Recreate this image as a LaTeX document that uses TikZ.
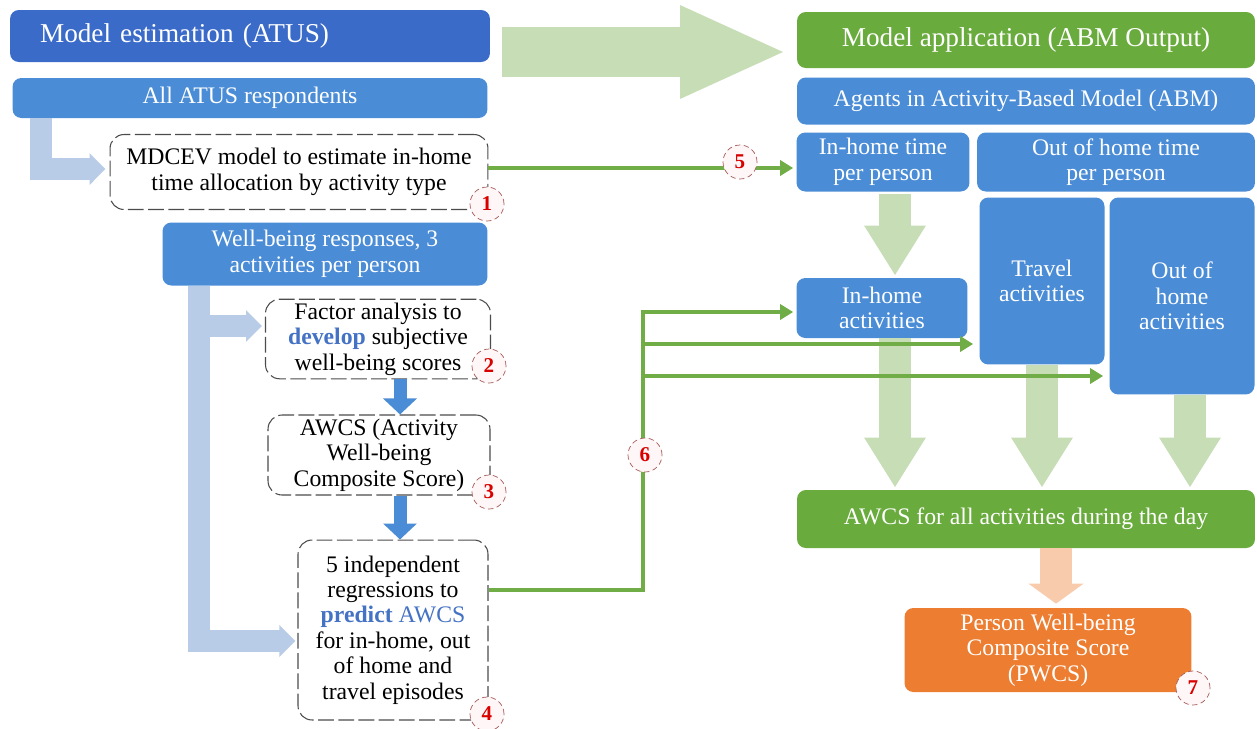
\documentclass[tikz,border=0pt]{standalone}
\usepackage{fontspec}
\setmainfont{Liberation Serif}
\usepackage{xcolor}
\usetikzlibrary{arrows.meta,positioning,calc}

\definecolor{estblue}{HTML}{3B6BC9}
\definecolor{boxblue}{HTML}{4A8CD6}
\definecolor{appgreen}{HTML}{6AAB3E}
\definecolor{lightgreen}{HTML}{C6DDB6}
\definecolor{lightblue}{HTML}{B9CCE7}
\definecolor{lightorange}{HTML}{F8CBAD}
\definecolor{pwcsorange}{HTML}{ED7D31}
\definecolor{keyblue}{HTML}{4472C4}
\definecolor{linkgreen}{HTML}{70AD47}

\newcommand{\bodyfont}{\fontsize{13.5}{14.5}\selectfont}
\newcommand{\hdrfont}{\fontsize{15.5}{17}\selectfont}

\begin{document}
\begin{tikzpicture}[x=0.02cm, y=-0.02cm,
  fill box/.style={rounded corners=5pt, align=center, text=white,
                   font=\bodyfont, inner sep=2pt},
  hdr/.style={fill box, font=\hdrfont},
  blue box/.style={fill box, fill=boxblue},
  step box/.style={draw=gray!60!black, dash pattern=on 9pt off 2.5pt,
                   line width=0.6pt, rounded corners=8pt, fill=white,
                   align=center, font=\bodyfont, inner sep=2pt},
  badge/.style={circle, draw=red!30!gray, densely dashed, fill=red!3,
                minimum size=0.68cm, inner sep=0pt, text=red!85!black,
                font=\fontsize{12}{12}\selectfont\bfseries},
  fat blue/.style={draw=lightblue, line width=0.44cm,
                   -{Triangle[length=0.32cm, width=0.62cm]}},
  down blue/.style={draw=boxblue, line width=0.26cm,
                    -{Triangle[length=0.32cm, width=0.66cm]}},
  fat green/.style={draw=lightgreen, line width=0.64cm,
                    -{Triangle[length=1.0cm, width=1.16cm]}},
  big green/.style={draw=lightgreen, line width=1cm,
                    -{Triangle[length=2.14cm, width=1.7cm]}},
  fat orange/.style={draw=lightorange, line width=0.64cm,
                     -{Triangle[length=0.4cm, width=1.08cm]}},
  green link/.style={draw=linkgreen, line width=2.2pt,
                     -{Triangle[length=0.26cm, width=0.3cm]}},
]
  \useasboundingbox (0,0) rectangle (1257,728);

  % estimation side
  \node[hdr, fill=estblue, minimum width=9.6cm, minimum height=1.04cm,
        text width=8.4cm, align=left] (est) at (250,36)
    {Model estimation (ATUS)};
  \node[blue box, minimum width=9.5cm, minimum height=0.8cm] (allatus) at (250,98)
    {All ATUS respondents};
  \node[step box, minimum width=7.56cm, minimum height=1.5cm] (mdcev) at (299,172)
    {MDCEV model to estimate in-home\\time allocation by activity type};
  \node[blue box, minimum width=6.5cm, minimum height=1.26cm] (wellb) at (325,254)
    {Well-being responses, 3\\activities per person};
  \node[step box, minimum width=4.5cm, minimum height=1.56cm] (factor) at (378,339)
    {Factor analysis to\\\textcolor{keyblue}{\textbf{develop}} subjective\\well-being scores};
  \node[step box, minimum width=4.44cm, minimum height=1.6cm] (awcs) at (379,455)
    {AWCS (Activity\\Well-being\\Composite Score)};
  \node[step box, minimum width=3.8cm, minimum height=3.6cm] (regr) at (393,630)
    {5 independent\\regressions to\\\textcolor{keyblue}{\textbf{predict} AWCS}\\for in-home, out\\of home and\\travel episodes};

  % application side
  \node[hdr, fill=appgreen, minimum width=9.16cm, minimum height=1.12cm] (app) at (1026,40)
    {Model application (ABM Output)};
  \node[blue box, minimum width=9.16cm, minimum height=0.94cm] (agents) at (1026,101)
    {Agents in Activity-Based Model (ABM)};
  \node[blue box, minimum width=3.46cm, minimum height=1.18cm] (ihtime) at (883,162)
    {In-home time\\per person};
  \node[blue box, minimum width=5.56cm, minimum height=1.18cm] (ohtime) at (1116,162)
    {Out of home time\\per person};
  \node[blue box, minimum width=3.42cm, minimum height=1.2cm] (ihact) at (882,308)
    {In-home\\activities};
  \node[blue box, minimum width=2.5cm, minimum height=3.34cm] (travel) at (1042,281)
    {Travel\\activities};
  \node[blue box, minimum width=2.9cm, minimum height=3.94cm] (ohact) at (1182,296)
    {Out of\\home\\activities};
  \node[fill box, fill=appgreen, minimum width=9.16cm, minimum height=1.16cm] (awcsday) at (1026,519)
    {AWCS for all activities during the day};
  \node[fill box, fill=pwcsorange, minimum width=5.74cm, minimum height=1.68cm] (pwcs) at (1048,650)
    {Person Well-being\\Composite Score\\(PWCS)};

  % wide arrows
  \coordinate (bigfrom) at (502,52);
  \coordinate (bigto) at (787,52);
  \draw[big green] (bigfrom) -- (bigto);

  \draw[fat blue] ($(allatus.south west)+(29,0)$) |- ($(mdcev.west)+(-4,-3)$);
  \coordinate (wbdrop) at ($(wellb.south west)+(37,0)$);
  \coordinate (fain) at ($(factor.west)+(-3,-13)$);
  \draw[fat blue] (wbdrop) |- ($(regr.west)+(-2,11)$);
  \draw[fat blue] (wbdrop |- fain) -- (fain);

  \draw[down blue] ($(factor.south)+(22,0)$) -- ($(awcs.north)+(21,0)$);
  \draw[down blue] ($(awcs.south)+(21,0)$) -- ($(regr.north)+(7,0)$);

  \draw[fat green] ($(ihtime.south)+(12,2)$) -- ($(ihact.north)+(13,-2)$);
  \draw[fat green] ($(ihact.south)+(13,0)$) -- ($(ihact.south |- awcsday.north)+(13,-2)$);
  \draw[fat green] (travel.south) -- ($(travel.south |- awcsday.north)+(0,-2)$);
  \draw[fat green] ($(ohact.south)+(8,0)$) -- ($(ohact.south |- awcsday.north)+(8,-2)$);
  \draw[fat orange] ($(awcsday.south)+(30,0)$) -- ($(pwcs.north)+(8,-4)$);

  % links
  \draw[green link] ($(mdcev.east)+(0,-4)$) -- ($(ihtime.west)+(-3,6)$);
  \coordinate (trunk) at (643,0);
  \coordinate (tvin) at ($(travel.west)+(-6,63)$);
  \coordinate (ohin) at ($(ohact.west)+(-6,80)$);
  \draw[green link] ($(regr.east)+(0,-40)$) -| ($(trunk |- ihact.west)+(0,4)$)
    -- ($(ihact.west)+(-3,4)$);
  \draw[green link] (trunk |- tvin) -- (tvin);
  \draw[green link] (trunk |- ohin) -- (ohin);

  % step numbers
  \node[badge] (b1) at (487,204) {1};
  \node[badge] (b2) at (489,366) {2};
  \node[badge] (b3) at (489,492) {3};
  \node[badge] (b4) at (487,714) {4};
  \node[badge] (b5) at (740,162) {5};
  \node[badge] (b6) at (645,455) {6};
  \node[badge] (b7) at (1193,688) {7};
\end{tikzpicture}
\end{document}
